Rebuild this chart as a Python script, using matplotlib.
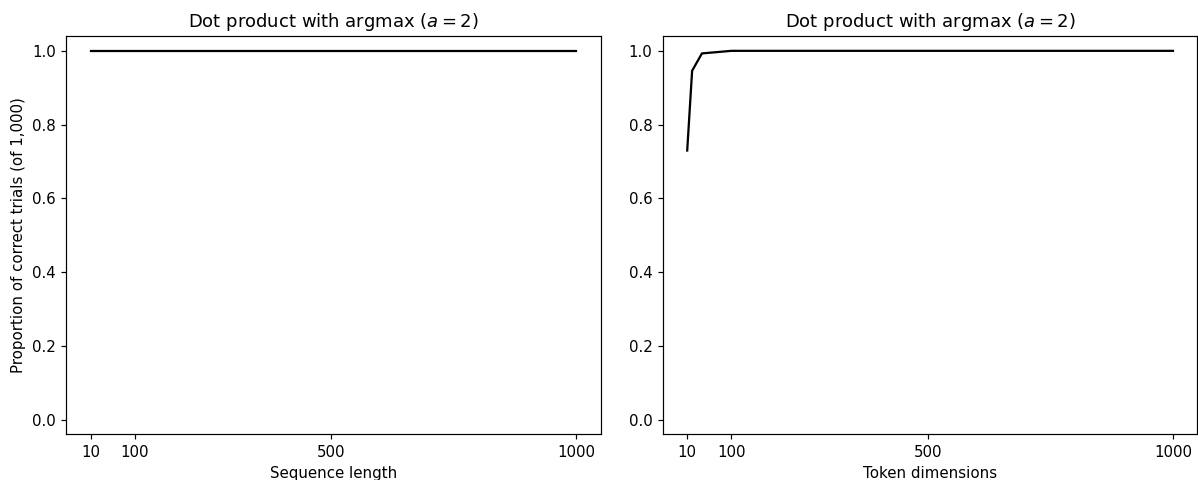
import numpy as np
import matplotlib
matplotlib.use('Agg')
import matplotlib.pyplot as plt

seq_lengths = [10, 20, 40, 100, 200, 300, 400, 500, 600, 700, 800, 900, 1000]
seq_correct = [1.0, 1.0, 1.0, 1.0, 1.0, 1.0, 1.0, 1.0, 1.0, 1.0, 1.0, 1.0, 1.0]

token_dims = [10, 20, 40, 100, 200, 300, 400, 500, 600, 700, 800, 900, 1000]
dim_correct = [0.730, 0.946, 0.993, 1.0, 1.0, 1.0, 1.0, 1.0, 1.0, 1.0, 1.0, 1.0, 1.0]

xticks = [10, 100, 500, 1000]

dpi = 108
fig, axes = plt.subplots(1, 2, figsize=(1198 / dpi, 480 / dpi), dpi=dpi)
fig.subplots_adjust(left=0.0553, right=0.9994, top=0.9256, bottom=0.0952, wspace=0.1166)

ax = axes[0]
ax.plot(seq_lengths, seq_correct, color='black')
ax.set_title('Dot product with argmax ($a = 2$)')
ax.set_xlabel('Sequence length')
ax.set_ylabel('Proportion of correct trials (of 1,000)')
ax.set_xticks(xticks)
ax.set_ylim(-0.039, 1.041)

ax = axes[1]
ax.plot(token_dims, dim_correct, color='black')
ax.set_title('Dot product with argmax ($a = 2$)')
ax.set_xlabel('Token dimensions')
ax.set_xticks(xticks)
ax.set_ylim(-0.039, 1.041)

plt.savefig('out.png', dpi=dpi)
